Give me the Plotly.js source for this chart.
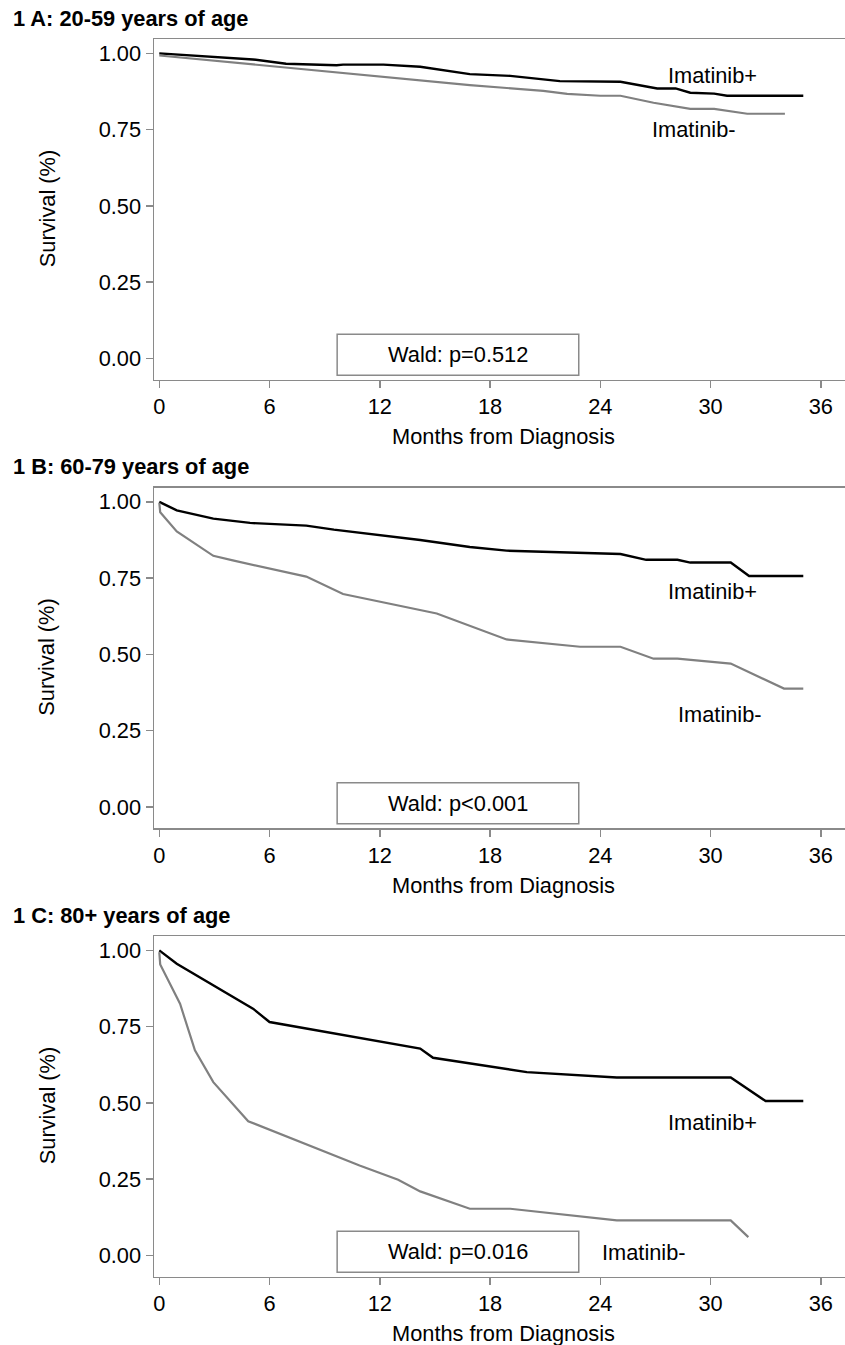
<!DOCTYPE html>
<html><head><meta charset="utf-8">
<script src="https://cdn.plot.ly/plotly-3.0.1.min.js"></script>
<style>html,body{margin:0;padding:0;background:#fff}</style>
</head><body><div id="chart" style="width:845px;height:1345px"></div>
<script>
// ---------- data ----------
const panelTitles = ["1 A: 20-59 years of age", "1 B: 60-79 years of age", "1 C: 80+ years of age"];
const waldTexts = ["Wald: p=0.512", "Wald: p<0.001", "Wald: p=0.016"];
const seriesNames = ["Imatinib+", "Imatinib-"];
const xTickVals = [0, 6, 12, 18, 24, 30, 36];
const yTickVals = [0, 0.25, 0.5, 0.75, 1];
const yTickLabels = ["0.00", "0.25", "0.50", "0.75", "1.00"];
const xAxisTitle = "Months from Diagnosis";
const yAxisTitle = "Survival (%)";

// Panel A: 20-59
const aPlusMonths = [0, 5.1, 6.9, 9.65, 10.0, 12.2, 14.2, 16.9, 19.1, 21.8, 25.1, 27.1, 28.1, 28.9, 30.2, 30.9, 35.05];
const aPlusSurv   = [1.00, 0.980, 0.966, 0.961, 0.963, 0.963, 0.956, 0.932, 0.926, 0.909, 0.907, 0.885, 0.885, 0.871, 0.868, 0.861, 0.861];
const aMinusMonths = [0, 14.2, 16.9, 20.9, 22.2, 24.0, 25.1, 26.9, 28.9, 30.2, 32.0, 34.05];
const aMinusSurv   = [0.993, 0.913, 0.896, 0.877, 0.867, 0.861, 0.861, 0.838, 0.818, 0.818, 0.802, 0.802];

// Panel B: 60-79
const bPlusMonths = [0, 0.95, 2.94, 4.94, 8.0, 9.5, 14.2, 16.9, 18.9, 24.0, 25.1, 26.5, 28.2, 28.9, 31.1, 32.1, 35.05];
const bPlusSurv   = [1.00, 0.972, 0.945, 0.931, 0.922, 0.909, 0.875, 0.852, 0.840, 0.829, 0.829, 0.810, 0.810, 0.801, 0.801, 0.757, 0.757];
const bMinusMonths = [0, 0.05, 0.95, 2.94, 4.0, 8.0, 10.0, 14.2, 15.1, 18.9, 22.9, 25.1, 26.9, 28.2, 31.1, 34.0, 35.05];
const bMinusSurv   = [0.997, 0.966, 0.903, 0.823, 0.808, 0.755, 0.698, 0.645, 0.634, 0.549, 0.525, 0.525, 0.486, 0.486, 0.470, 0.388, 0.388];

// Panel C: 80+
const cPlusMonths = [0, 0.95, 5.1, 6.0, 14.2, 14.9, 20.0, 24.9, 31.1, 33.0, 35.05];
const cPlusSurv   = [1.00, 0.956, 0.809, 0.765, 0.678, 0.648, 0.601, 0.583, 0.583, 0.506, 0.506];
const cMinusMonths = [0, 0.05, 1.13, 1.94, 2.94, 4.84, 10.9, 13.0, 14.2, 16.9, 19.1, 24.9, 31.1, 32.06];
const cMinusSurv   = [0.994, 0.954, 0.825, 0.672, 0.568, 0.440, 0.295, 0.248, 0.210, 0.153, 0.153, 0.115, 0.115, 0.060];

// ---------- layout helpers ----------
const W = 845, H = 1345;
const FONT = "Liberation Sans, Arial, Helvetica, sans-serif";
const FS = 21.8;
const panelTops = [39, 487.5, 936];
const panelH = 340.5;
const plotLeft = 154;
const xRange = [-0.288, 37.32];
const yRange = [-0.069, 1.047];
const axisGray = "#8a8a8a";

const panels = [
  {plus: [aPlusMonths, aPlusSurv], minus: [aMinusMonths, aMinusSurv],
   plusLbl: [27.6, 0.926], minusLbl: [26.7, 0.749]},
  {plus: [bPlusMonths, bPlusSurv], minus: [bMinusMonths, bMinusSurv],
   plusLbl: [27.6, 0.705], minusLbl: [28.1, 0.303]},
  {plus: [cPlusMonths, cPlusSurv], minus: [cMinusMonths, cMinusSurv],
   plusLbl: [27.6, 0.436], minusLbl: [24.0, 0.010]}
];

const data = [];
const layout = {
  width: W, height: H,
  margin: {l: 0, r: 0, t: 0, b: 0},
  paper_bgcolor: "#fff", plot_bgcolor: "#fff",
  showlegend: false,
  font: {family: FONT, color: "#000", size: FS},
  annotations: [], shapes: []
};

panels.forEach((p, i) => {
  const sfx = i === 0 ? "" : String(i + 1);
  const xa = "x" + sfx, ya = "y" + sfx;
  const top = panelTops[i], bot = top + panelH;
  data.push({x: p.plus[0], y: p.plus[1], xaxis: xa, yaxis: ya, type: "scatter", mode: "lines",
             name: seriesNames[0], line: {color: "#000", width: 2.4}, hoverinfo: "x+y"});
  data.push({x: p.minus[0], y: p.minus[1], xaxis: xa, yaxis: ya, type: "scatter", mode: "lines",
             name: seriesNames[1], line: {color: "#808080", width: 2.2}, hoverinfo: "x+y"});

  layout["xaxis" + sfx] = {
    domain: [plotLeft / W, 1], anchor: ya, range: xRange,
    tickvals: xTickVals, ticktext: xTickVals.map(String),
    ticks: "outside", ticklen: 7, tickwidth: 1.5, tickcolor: axisGray,
    showline: true, linecolor: axisGray, linewidth: 1.5, mirror: true,
    showgrid: false, zeroline: false, fixedrange: true,
    tickfont: {family: FONT, size: FS, color: "#000"}
  };
  layout["yaxis" + sfx] = {
    domain: [1 - bot / H, 1 - top / H], anchor: xa, range: yRange,
    tickvals: yTickVals, ticktext: yTickLabels,
    ticks: "outside", ticklen: 7, tickwidth: 1.5, tickcolor: axisGray,
    showline: true, linecolor: axisGray, linewidth: 1.5,
    showgrid: false, zeroline: false, fixedrange: true,
    tickfont: {family: FONT, size: FS, color: "#000"}
  };

  // panel title
  layout.annotations.push({xref: "paper", yref: "paper", x: 11 / W, y: 1 - (top - 21) / H,
    xanchor: "left", yanchor: "middle", showarrow: false, text: "<b>" + panelTitles[i] + "</b>",
    font: {family: FONT, size: 21.8, color: "#000"}});
  // y title
  layout.annotations.push({xref: "paper", yref: "paper", x: 47 / W, y: 1 - (top + panelH / 2) / H,
    xanchor: "center", yanchor: "middle", showarrow: false, textangle: -90, text: yAxisTitle,
    font: {family: FONT, size: FS, color: "#000"}});
  // x title
  layout.annotations.push({xref: "paper", yref: "paper", x: 503 / W, y: 1 - (bot + 57) / H,
    xanchor: "center", yanchor: "middle", showarrow: false, text: xAxisTitle,
    font: {family: FONT, size: FS, color: "#000"}});
  // series labels
  layout.annotations.push({xref: xa, yref: ya, x: p.plusLbl[0], y: p.plusLbl[1], xanchor: "left", yanchor: "middle",
    showarrow: false, text: seriesNames[0], font: {family: FONT, size: FS, color: "#000"}});
  layout.annotations.push({xref: xa, yref: ya, x: p.minusLbl[0], y: p.minusLbl[1], xanchor: "left", yanchor: "middle",
    showarrow: false, text: seriesNames[1], font: {family: FONT, size: FS, color: "#000"}});
  // Wald box
  layout.shapes.push({type: "rect", xref: xa, yref: ya, x0: 9.68, x1: 22.83, y0: -0.055, y1: 0.079,
    line: {color: axisGray, width: 1.5}, fillcolor: "rgba(0,0,0,0)"});
  layout.annotations.push({xref: xa, yref: ya, x: 16.25, y: 0.012, xanchor: "center", yanchor: "middle",
    showarrow: false, text: waldTexts[i], font: {family: FONT, size: FS, color: "#000"}});
});

Plotly.newPlot("chart", data, layout, {displayModeBar: false, staticPlot: true});
</script></body></html>
